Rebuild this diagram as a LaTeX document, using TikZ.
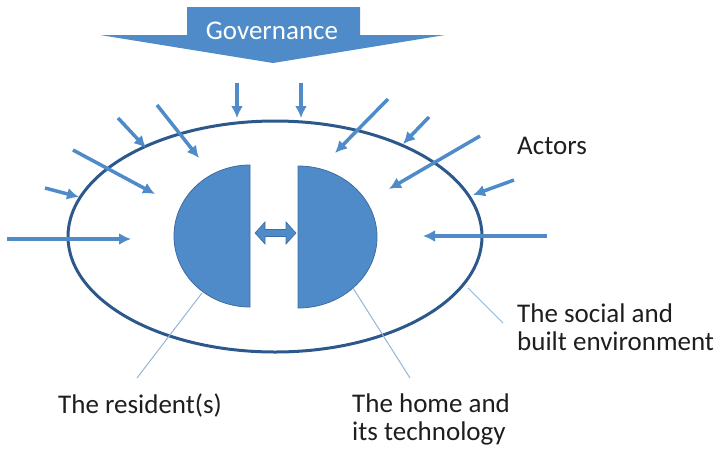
\documentclass[tikz,border=0pt]{standalone}
\usepackage{fontspec}
\setmainfont{Carlito}
\usepackage{tikz}
\usetikzlibrary{arrows.meta}
\usepackage{xcolor}
\definecolor{boxblue}{RGB}{79,139,201}
\definecolor{edgeblue}{RGB}{62,108,160}
\definecolor{ringblue}{RGB}{45,88,140}
\definecolor{legblue}{RGB}{145,182,218}
\definecolor{txt}{RGB}{30,30,30}

\begin{document}
\begin{tikzpicture}[x=1pt,y=-1pt]
\tikzstyle{actor} = [draw=boxblue,line width=3.5pt,
            -{Latex[length=12pt,width=12pt]}];
\tikzstyle{half} = [fill=boxblue,draw=edgeblue,line width=0.8pt];
\tikzstyle{lbl} = [font=\fontsize{27}{28}\selectfont,text=txt,inner sep=0pt];
\tikzstyle{leader} = [draw=legblue,line width=1pt];

    \useasboundingbox (0,0) rectangle (714,451);

    % governance arrow on top
    \fill[boxblue] (187,7) -- (360,7) -- (360,35) -- (445,35) -- (273,63)
        -- (100,35) -- (187,35) -- cycle;
    \node (gov) [lbl,anchor=base,text=white] at (272,39) {Governance};

    % the environment ring
    \draw[ringblue,line width=3pt] (275,236.5) ellipse [x radius=207, y radius=115.5];

    % resident and home
    \draw[half] (250,165) arc[start angle=270,end angle=90,x radius=76,y radius=71] -- cycle;
    \draw[half] (298,308) arc[start angle=90,end angle=-90,x radius=79,y radius=71] -- cycle;

    % two way link between them
    \draw[half,line width=0.6pt] (255,233) -- (265,222) -- (265,229.5) -- (286,229.5)
        -- (286,222) -- (296,233) -- (286,244) -- (286,236.5) -- (265,236.5)
        -- (265,244) -- cycle;

    % actors pushing in
    \foreach \sx/\sy/\ex/\ey [count=\i] in {7/239/131/239, 45/188/79/197,
            73/150/155/194, 118/118/146/148, 157/105/199/158, 237/83/237/118,
            301/83/301/118, 388/99/335/153, 429/117/403/144, 480/136/389/189,
            514/180/473/195, 547/236/423/236} {
        \coordinate (s\i) at (\sx,\sy);
        \coordinate (e\i) at (\ex,\ey);
        \draw[actor] (s\i) -- (e\i);
    }

    \node (act) [lbl,anchor=base west] at (517,154) {Actors};

    % labels and leaders
    \node (res) [lbl,anchor=base west] at (58,413) {The resident(s)};
    \node (home) [lbl,anchor=north west,align=left] at (352,394) {The home and\\its technology};
    \node (env) [lbl,anchor=north west,align=left] at (517,304) {The social and\\built environment};

    \coordinate (resedge) at (202,293);
    \coordinate (resleg) at (137,378);
    \coordinate (homeedge) at (353,288);
    \coordinate (homeleg) at (410,378);
    \coordinate (envedge) at (468,288);
    \coordinate (envleg) at (503,323);
    \draw[leader] (resedge) -- (resleg);
    \draw[leader] (homeedge) -- (homeleg);
    \draw[leader] (envedge) -- (envleg);

\end{tikzpicture}
\end{document}
